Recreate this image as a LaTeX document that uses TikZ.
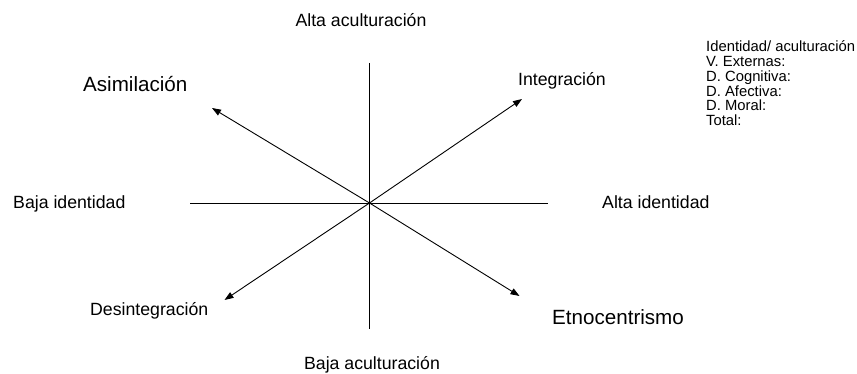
\documentclass[tikz,border=0pt]{standalone}
\usepackage{fontspec}
\setmainfont{Liberation Sans}
\usetikzlibrary{arrows.meta}

\tikzset{
    axis/.style={black,line width=0.9pt},
    vec/.style={black,line width=0.9pt,-{Triangle[length=9pt,width=6.5pt]}},
    lbl/.style={inner sep=0pt,font=\fontsize{17.7}{20}\selectfont},
    biglbl/.style={inner sep=0pt,font=\fontsize{20.6}{24}\selectfont},
    legend/.style={inner sep=0pt,anchor=base west,font=\fontsize{14.8}{15}\selectfont}
}

\begin{document}
\begin{tikzpicture}[x=1pt,y=-1pt]
        \useasboundingbox (0,0) rectangle (857,374);

        \coordinate (o) at (369.5,203);
        \coordinate (top) at (369.5,63);
        \coordinate (bot) at (369.5,329);
        \coordinate (lft) at (190,203);
        \coordinate (rgt) at (548,203);

        \draw[axis] (top)--(bot);
        \draw[axis] (lft)--(rgt);

        \coordinate (asim) at (212,108);
        \coordinate (integ) at (522,99);
        \coordinate (desint) at (224.5,300);
        \coordinate (etno) at (519.5,296);
        \foreach \p in {asim,integ,desint,etno} {
            \draw[vec] (o)--(\p);
        }

        \node[lbl,anchor=base] (altaac) at (361,27) {Alta aculturación};
        \node[lbl,anchor=base] (bajaac) at (372,369) {Baja aculturación};
        \node[lbl,anchor=base west] (bajaid) at (13,209) {Baja identidad};
        \node[lbl,anchor=base west] (altaid) at (602,209) {Alta identidad};

        \node[biglbl,anchor=base west] (tasim) at (83,92) {Asimilación};
        \node[lbl,anchor=base west] (tinteg) at (518,86) {Integración};
        \node[lbl,anchor=base west] (tdesint) at (90,316) {Desintegración};
        \node[biglbl,anchor=base west] (tetno) at (552,324) {Etnocentrismo};

        \foreach \t [count=\i from 0] in {Identidad/ aculturación,V. Externas:,D. Cognitiva:,D. Afectiva:,D. Moral:,Total:} {
            \node[legend] (leg\i) at (706,52+14.7*\i) {\t};
        }

    \end{tikzpicture}
\end{document}
